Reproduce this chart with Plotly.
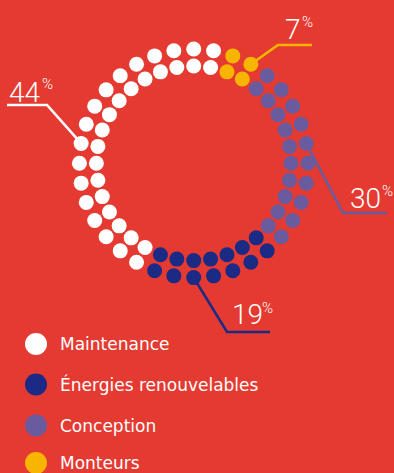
import numpy as np
import plotly.graph_objects as go

# ---- data ----
categories = ["Maintenance", "Énergies renouvelables", "Conception", "Monteurs"]
percent_values = [44, 19, 30, 7]
dots_per_ring = [17, 7, 10, 2]          # dots of each category in each of the two rings
colors = ["#FFFFFF", "#1B2A84", "#6A5B9F", "#F7B500"]

# ---- layout / style ----
W, H = 394, 473
BG = "#E53A31"
cx, cy = 193.7, 163.3
r_outer, r_inner = 114.3, 97.3
start_angle, step = 80.0, 10.0
dot_size = 15

fig = go.Figure()

# angles for each category (counterclockwise from start)
angles = {}
k = 0
for cat, n in zip(categories, dots_per_ring):
    angles[cat] = [start_angle + step * (k + i) for i in range(n)]
    k += n

def pos(r, a):
    t = np.deg2rad(a)
    return cx + r * np.cos(t), cy - r * np.sin(t)

# leader lines (drawn under the dots)
leader = {
    "Maintenance": dict(angle=170, elbow=(47, 105), end=(7, 105), num=(25, 92), pct=(47.5, 84)),
    "Énergies renouvelables": dict(angle=270, elbow=(227, 332), end=(270, 332), num=(247.5, 314), pct=(267, 308)),
    "Conception": dict(angle=10, elbow=(343, 213), end=(387, 213), num=(365, 198), pct=(387.5, 191)),
    "Monteurs": dict(angle=60, elbow=(278, 45), end=(312, 45), num=(292.5, 29), pct=(307, 22)),
}
for cat, col, pv in zip(categories, colors, percent_values):
    L = leader[cat]
    x0, y0 = pos(r_outer, L["angle"])
    fig.add_trace(go.Scatter(
        x=[x0, L["elbow"][0], L["end"][0]], y=[y0, L["elbow"][1], L["end"][1]],
        mode="lines", line=dict(color=col, width=2.6), hoverinfo="skip", showlegend=False))
    fig.add_annotation(x=L["num"][0], y=L["num"][1], text=str(pv), showarrow=False,
                       xanchor="center", yanchor="middle",
                       font=dict(family="Roboto", size=28, color="white", weight=300))
    fig.add_annotation(x=L["pct"][0], y=L["pct"][1], text="%", showarrow=False,
                       xanchor="center", yanchor="middle",
                       font=dict(family="Roboto", size=15, color="white", weight=300))

# dots
for cat, col in zip(categories, colors):
    xs, ys = [], []
    for r in (r_outer, r_inner):
        for a in angles[cat]:
            x, y = pos(r, a)
            xs.append(x); ys.append(y)
    fig.add_trace(go.Scatter(x=xs, y=ys, mode="markers", name=cat,
                             marker=dict(color=col, size=dot_size, line=dict(width=0)),
                             hoverinfo="skip", showlegend=False))

# custom legend
legend_y = [344, 384.5, 425.5, 463]
fig.add_trace(go.Scatter(x=[36] * 4, y=legend_y, mode="markers",
                         marker=dict(color=colors, size=22, line=dict(width=0)),
                         hoverinfo="skip", showlegend=False))
for cat, y in zip(categories, legend_y):
    fig.add_annotation(x=58, y=y, text=cat, showarrow=False, xanchor="left", yanchor="middle",
                       font=dict(family="DejaVu Sans", size=17, color="white"))

fig.update_layout(
    width=W, height=H, margin=dict(l=0, r=0, t=0, b=0),
    paper_bgcolor=BG, plot_bgcolor=BG,
    xaxis=dict(range=[0, W], visible=False, fixedrange=True),
    yaxis=dict(range=[H, 0], visible=False, fixedrange=True),
    hovermode=False, showlegend=False,
)
fig.write_html("out.html", config={"displayModeBar": False},
               post_script="document.body.style.margin='0';document.body.style.overflow='hidden';")
